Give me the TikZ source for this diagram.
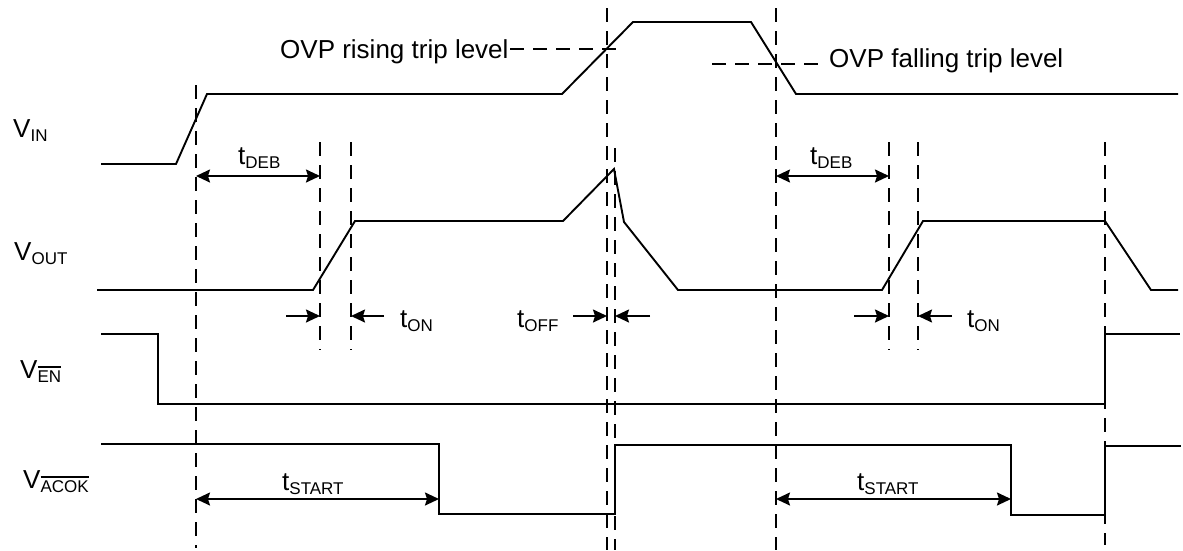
\documentclass[tikz,border=0pt]{standalone}
\usepackage{fontspec}
\setmainfont{Liberation Sans}
\usetikzlibrary{arrows.meta}
\newcommand{\sbs}[1]{\raisebox{-4pt}{\fontsize{17}{17}\selectfont #1}}
\newcommand{\ovl}[1]{\vbox{\hrule height 1.4pt\kern 2.5pt\hbox{#1}}}
\begin{document}
\begin{tikzpicture}[x=1pt,y=-1pt,
  sig/.style={line width=1.9pt, line join=miter},
  dsh/.style={line width=1.8pt, dash pattern=on 14pt off 9pt},
  tipa/.style={-{Stealth[length=14pt,width=13pt,inset=2pt]}},
  dimarr/.style={line width=1.8pt, {Stealth[length=14pt,width=13pt,inset=2pt]}-{Stealth[length=14pt,width=13pt,inset=2pt]}},
  onearr/.style={line width=1.8pt, tipa},
  lbl/.style={inner sep=0pt, anchor=base west, font=\fontsize{26}{26}\selectfont}]
\useasboundingbox (0,0) rectangle (1183,550);

% vertical dashed markers
\coordinate (d1t) at (196,85);   \coordinate (d1b) at (196,548);
\coordinate (d2t) at (320,142);  \coordinate (d2b) at (320,350);
\coordinate (d3t) at (351,142);  \coordinate (d3b) at (351,350);
\coordinate (d4t) at (607,8);    \coordinate (d4b) at (607,550);
\coordinate (d5t) at (615,148);  \coordinate (d5b) at (615,550);
\coordinate (d6t) at (776,8);    \coordinate (d6b) at (776,550);
\coordinate (d7t) at (889,142);  \coordinate (d7b) at (889,350);
\coordinate (d8t) at (918,142);  \coordinate (d8b) at (918,350);
\coordinate (d9t) at (1105,142); \coordinate (d9b) at (1105,545);
\foreach \i in {1,...,9} \draw[dsh] (d\i t) -- (d\i b);

% trip level dashed lines
\coordinate (ovr1) at (510,49);  \coordinate (ovr2) at (622,49);
\coordinate (ovf1) at (712,64);  \coordinate (ovf2) at (824,64);
\draw[dsh] (ovr1) -- (ovr2);
\draw[dsh] (ovf1) -- (ovf2);

% signals
\draw[sig] (101,164) -- (176,164) -- (207,94) -- (562,94) -- (633,22) -- (751,22) -- (796,94) -- (1178,94);
\draw[sig] (97,290) -- (313,290) -- (355,221) -- (563,221) -- (614,169) -- (624,222) -- (678,290) -- (882,290) -- (923,221) -- (1105,221) -- (1151,290) -- (1178,290);
\draw[sig] (101,334) -- (158,334) -- (158,404) -- (1105,404) -- (1105,334) -- (1180,334);
\draw[sig] (101,444) -- (439,444) -- (439,514) -- (615,514) -- (615,445) -- (1011,445) -- (1011,515) -- (1105,515) -- (1105,446) -- (1181,446);

% labels
\node[lbl] (vin)  at (13,137) {V\sbs{IN}};
\node[lbl] (vout) at (14,260) {V\sbs{OUT}};
\node[lbl] (ven)  at (20,378) {V\sbs{\ovl{EN}}};
\node[lbl] (vacok) at (23,488) {V\sbs{\ovl{ACOK}}};
\node[lbl] (ovpr) at (280,58) {OVP rising trip level};
\node[lbl] (ovpf) at (829,67) {OVP falling trip level};
\node[lbl] (tdeb1) at (238,164) {t\sbs{DEB}};
\node[lbl] (tdeb2) at (810,164) {t\sbs{DEB}};
\node[lbl] (ton1) at (400,327) {t\sbs{ON}};
\node[lbl] (toff) at (517,327) {t\sbs{OFF}};
\node[lbl] (ton2) at (967,327) {t\sbs{ON}};
\node[lbl] (tst1) at (282,490) {t\sbs{START}};
\node[lbl] (tst2) at (857,490) {t\sbs{START}};

% dimension arrows
\coordinate (a1) at (196,176);  \coordinate (a2) at (320,176);
\coordinate (a3) at (776,176);  \coordinate (a4) at (889,176);
\draw[dimarr] (a1) -- (a2);
\draw[dimarr] (a3) -- (a4);
\coordinate (b1) at (286,316);  \coordinate (b2) at (320,316);
\coordinate (b3) at (384,316);  \coordinate (b4) at (351,316);
\draw[onearr] (b1) -- (b2);
\draw[onearr] (b3) -- (b4);
\coordinate (c1) at (573,316);  \coordinate (c2) at (607,316);
\coordinate (c3) at (650,316);  \coordinate (c4) at (615,316);
\draw[onearr] (c1) -- (c2);
\draw[onearr] (c3) -- (c4);
\coordinate (e1) at (854,316);  \coordinate (e2) at (889,316);
\coordinate (e3) at (952,316);  \coordinate (e4) at (918,316);
\draw[onearr] (e1) -- (e2);
\draw[onearr] (e3) -- (e4);
\coordinate (s1) at (196,499);  \coordinate (s2) at (439,499);
\coordinate (s3) at (776,499);  \coordinate (s4) at (1011,499);
\draw[dimarr] (s1) -- (s2);
\draw[dimarr] (s3) -- (s4);
\end{tikzpicture}
\end{document}
